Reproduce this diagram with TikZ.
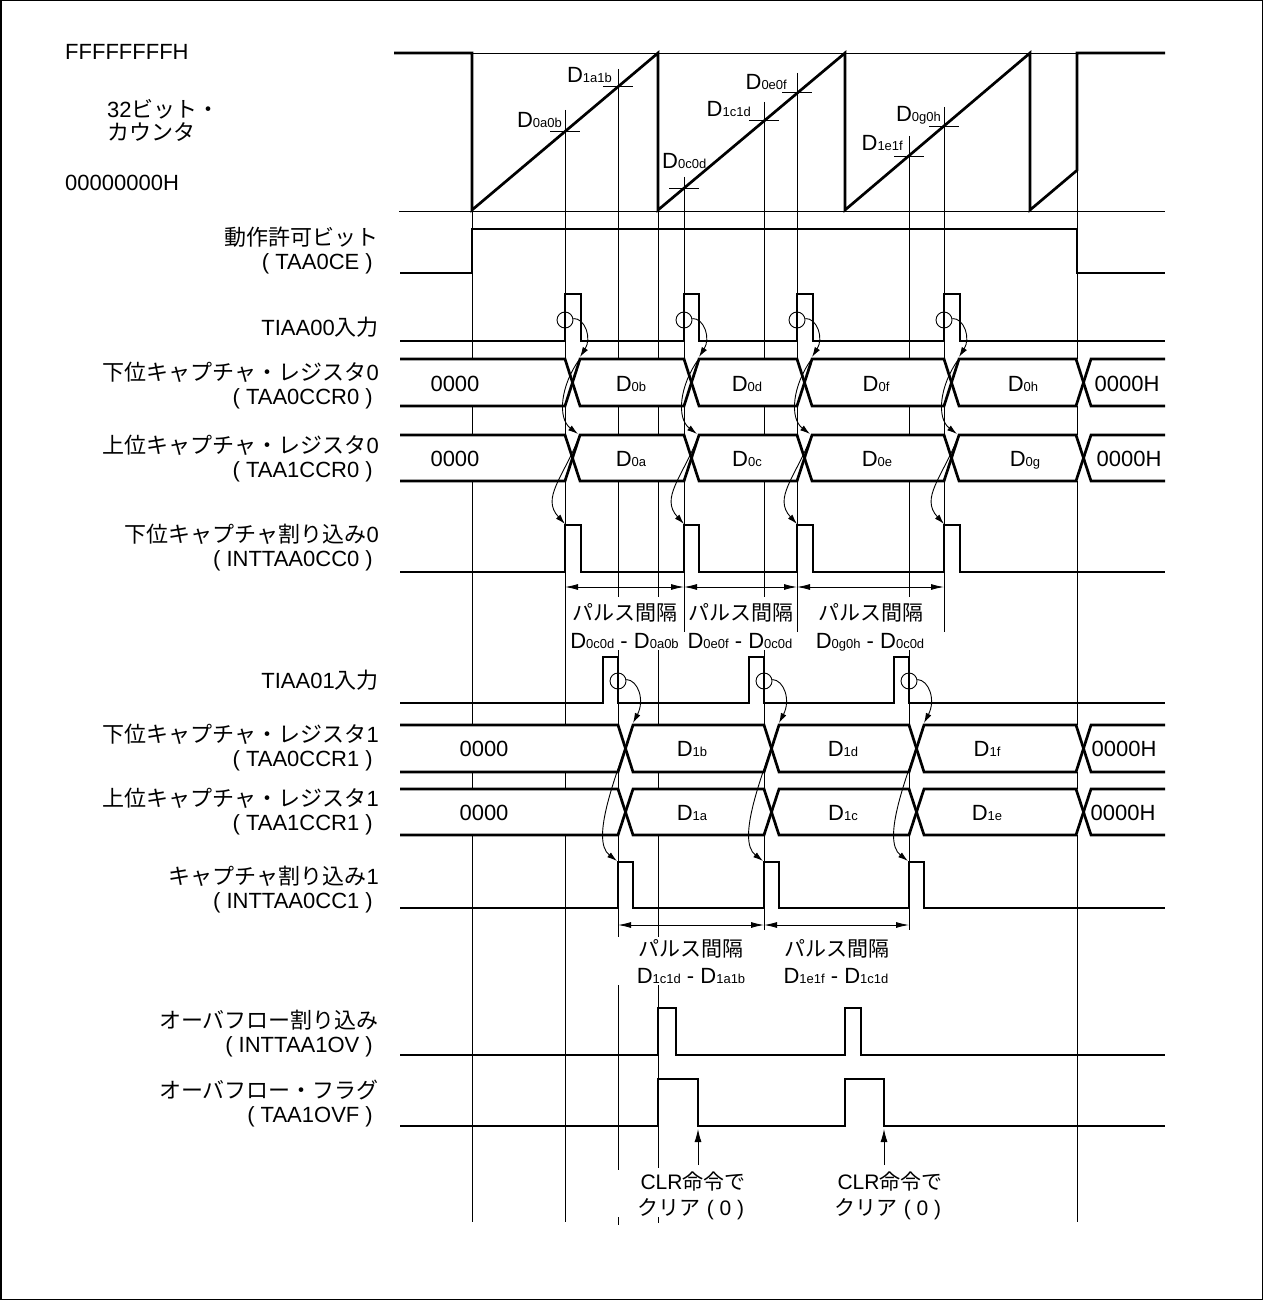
\documentclass[tikz,border=0pt]{standalone}
\usepackage{fontspec}
\setmainfont{Liberation Sans}
\newfontfamily\jp{Noto Sans CJK JP}
\usetikzlibrary{arrows.meta}
\newcommand\fzl{\fontsize{22}{26}\selectfont}
\newcommand\fzp{\fontsize{21}{25}\selectfont}
\newcommand\sbsz{\fontsize{13}{13}\selectfont}
\newcommand\Dsb[1]{D{\sbsz #1}}
\begin{document}
\begin{tikzpicture}[x=1pt,y=-1pt,
  sig/.style={line width=2.7pt,line join=miter},
  gridl/.style={line width=0.9pt},
  thinl/.style={line width=0.9pt},
  capar/.style={line width=0.9pt,-{Latex[length=10pt,width=6pt]}},
  dimar/.style={line width=0.9pt,{Latex[length=13pt,width=6pt]}-{Latex[length=13pt,width=6pt]}},
  clrar/.style={line width=0.9pt,-{Latex[length=13pt,width=7pt]}},
  lbl/.style={anchor=base east,inner sep=0pt,font=\fzl},
  val/.style={anchor=base,inner sep=0pt,font=\fzl},
  dl/.style={anchor=base east,inner sep=0pt,font=\fzl},
  pil/.style={anchor=base,inner sep=0pt,font=\fzp},
  ring/.style={circle,draw,line width=0.9pt,minimum size=16pt,inner sep=0pt}]
\useasboundingbox (0,0) rectangle (1263,1300);
\draw[line width=1.5pt] (0.75,0.75) rectangle (1262.25,1299.25);

% ---------- grid lines ----------
\draw[gridl] (472,53) -- (472,1222)
 (565,110) -- (565,1222)
 (618,69) -- (618,597) (618,650) -- (618,937) (618,985) -- (618,1170) (618,1217) -- (618,1225)
 (658,53) -- (658,597) (658,650) -- (658,937) (658,985) -- (658,1168) (658,1217) -- (658,1223)
 (684,177) -- (684,632)
 (764,102) -- (764,597) (764,650) -- (764,930)
 (797,73) -- (797,632)
 (909,136) -- (909,597) (909,650) -- (909,930)
 (944,107) -- (944,632)
 (1077,53) -- (1077,1222);
\draw[gridl] (472,53) -- (1077,53) (399,211) -- (1165,211);
\draw[gridl] (550,131.5) -- (580,131.5) (603,86.8) -- (633,86.8) (669,188.1) -- (699,188.1)
 (749,120.5) -- (779,120.5) (782,92.7) -- (812,92.7) (894,156) -- (924,156) (929,126.4) -- (959,126.4);

% ---------- counter ----------
\draw[sig] (394,53) -- (472,53) -- (472,210) -- (658,53) -- (658,210) -- (845,53) -- (845,210)
 -- (1030,53) -- (1030,210) -- (1077,170.3) -- (1077,53) -- (1165,53);
\node[dl] (c1) at (562,128) {\Dsb{0a0b}};
\node[dl] (c2) at (612,83) {\Dsb{1a1b}};
\node[dl,anchor=base west] (c3) at (662,168) {\Dsb{0c0d}};
\node[dl] (c4) at (751,117) {\Dsb{1c1d}};
\node[dl] (c5) at (787,90) {\Dsb{0e0f}};
\node[dl] (c6) at (903,151) {\Dsb{1e1f}};
\node[dl] (c7) at (941,122) {\Dsb{0g0h}};
\node[anchor=base west,inner sep=0pt,font=\fzl] (f1) at (65,60) {FFFFFFFFH};
\node[anchor=base west,inner sep=0pt,font=\fzl] (f2) at (107,118) {32{\jp ビット・}};
\node[anchor=base west,inner sep=0pt,font=\fzl] (f3) at (107,141) {{\jp カウンタ}};
\node[anchor=base west,inner sep=0pt,font=\fzl] (f4) at (65,190) {00000000H};

% ---------- labels ----------
\node[lbl] (l1a) at (379,245) {{\jp 動作許可ビット}};
\node[lbl] (l1b) at (373,269) {( TAA0CE )};
\node[lbl] (l2) at (379,335) {TIAA00{\jp 入力}};
\node[lbl] (l3a) at (379,380) {{\jp 下位キャプチャ・レジスタ}0};
\node[lbl] (l3b) at (373,404) {( TAA0CCR0 )};
\node[lbl] (l4a) at (379,453.5) {{\jp 上位キャプチャ・レジスタ}0};
\node[lbl] (l4b) at (373,477.5) {( TAA1CCR0 )};
\node[lbl] (l5a) at (379,542) {{\jp 下位キャプチャ割り込み}0};
\node[lbl] (l5b) at (373,566) {( INTTAA0CC0 )};
\node[lbl] (l6) at (379,688) {TIAA01{\jp 入力}};
\node[lbl] (l7a) at (379,742.5) {{\jp 下位キャプチャ・レジスタ}1};
\node[lbl] (l7b) at (373,766.5) {( TAA0CCR1 )};
\node[lbl] (l8a) at (379,806.5) {{\jp 上位キャプチャ・レジスタ}1};
\node[lbl] (l8b) at (373,830.5) {( TAA1CCR1 )};
\node[lbl] (l9a) at (379,884.5) {{\jp キャプチャ割り込み}1};
\node[lbl] (l9b) at (373,908.5) {( INTTAA0CC1 )};
\node[lbl] (l10a) at (379,1028.5) {{\jp オーバフロー割り込み}};
\node[lbl] (l10b) at (373,1052.5) {( INTTAA1OV )};
\node[lbl] (l11a) at (379,1098.5) {{\jp オーバフロー・フラグ}};
\node[lbl] (l11b) at (373,1122.5) {( TAA1OVF )};

% ---------- TAA0CE ----------
\draw[sig] (400,273) -- (472,273) -- (472,229) -- (1077,229) -- (1077,273) -- (1165,273);

% ---------- TIAA00 ----------
\draw[sig] (400,341) -- (565,341) -- (565,294) -- (581,294) -- (581,341) -- (684,341) -- (684,294)
 -- (699,294) -- (699,341) -- (797,341) -- (797,294) -- (813,294) -- (813,341) -- (944,341)
 -- (944,294) -- (960,294) -- (960,341) -- (1165,341);

% ---------- buses CCR0 ----------
\fill[white] (400,359) rectangle (1165,406);
\fill[white] (400,435) rectangle (1165,481);
\draw[sig] (400,359) -- (565,359) -- (580,406) -- (684,406) -- (699,359) -- (797,359) -- (812,406)
 -- (944,406) -- (959,359) -- (1076,359) -- (1091,406) -- (1165,406);
\draw[sig] (400,406) -- (565,406) -- (580,359) -- (684,359) -- (699,406) -- (797,406) -- (812,359)
 -- (944,359) -- (959,406) -- (1076,406) -- (1091,359) -- (1165,359);
\draw[sig] (400,435) -- (565,435) -- (580,481) -- (684,481) -- (699,435) -- (797,435) -- (812,481)
 -- (944,481) -- (959,435) -- (1076,435) -- (1091,481) -- (1165,481);
\draw[sig] (400,481) -- (565,481) -- (580,435) -- (684,435) -- (699,481) -- (797,481) -- (812,435)
 -- (944,435) -- (959,481) -- (1076,481) -- (1091,435) -- (1165,435);
\node[val] (v1) at (455,391) {0000};
\node[val] (v2) at (631,391) {\Dsb{0b}};
\node[val] (v3) at (747,391) {\Dsb{0d}};
\node[val] (v4) at (876,391) {\Dsb{0f}};
\node[val] (v5) at (1023,391) {\Dsb{0h}};
\node[val] (v6) at (1127,391) {0000H};
\node[val] (w1) at (455,466) {0000};
\node[val] (w2) at (631,466) {\Dsb{0a}};
\node[val] (w3) at (747,466) {\Dsb{0c}};
\node[val] (w4) at (877,466) {\Dsb{0e}};
\node[val] (w5) at (1025,466) {\Dsb{0g}};
\node[val] (w6) at (1129,466) {0000H};

% ---------- INTTAA0CC0 ----------
\draw[sig] (400,572) -- (565,572) -- (565,525) -- (581,525) -- (581,572) -- (684,572) -- (684,525)
 -- (699,525) -- (699,572) -- (797,572) -- (797,525) -- (813,525) -- (813,572) -- (944,572)
 -- (944,525) -- (960,525) -- (960,572) -- (1165,572);

% capture arrows, channel 0
\foreach \x/\n in {565/1,684/2,797/3,944/4}{
  \node[ring] (o\n) at (\x,320) {};
  \draw[capar] (o\n.10) .. controls ({\x+20},318) and ({\x+27},338) .. ({\x+15},357);
  \draw[capar] ({\x+14},360) .. controls ({\x-4},385) and ({\x-8},418) .. ({\x+13},434);
  \draw[capar] ({\x+14},437) .. controls ({\x-2},478) and ({\x-24},498) .. ({\x},524);
}

% pulse intervals, channel 0
\draw[dimar] (565,587) -- (684,587);
\draw[dimar] (684,587) -- (797,587);
\draw[dimar] (797,587) -- (944,587);
\node[pil] (p1) at (624.5,620) {{\jp パルス間隔}};
\node[pil] (p2) at (740.5,620) {{\jp パルス間隔}};
\node[pil] (p3) at (870.5,620) {{\jp パルス間隔}};
\node[val] (q1) at (624.5,648) {\Dsb{0c0d} - \Dsb{0a0b}};
\node[val] (q2) at (740,648) {\Dsb{0e0f} - \Dsb{0c0d}};
\node[val] (q3) at (870,648) {\Dsb{0g0h} - \Dsb{0c0d}};

% ---------- TIAA01 ----------
\draw[sig] (400,703) -- (603,703) -- (603,657) -- (618,657) -- (618,703) -- (749,703) -- (749,657)
 -- (764,657) -- (764,703) -- (894,703) -- (894,657) -- (909,657) -- (909,703) -- (1165,703);

% ---------- buses CCR1 ----------
\fill[white] (400,725) rectangle (1165,772);
\fill[white] (400,789) rectangle (1165,835);
\draw[sig] (400,725) -- (618,725) -- (633,772) -- (764,772) -- (779,725) -- (909,725) -- (924,772)
 -- (1076,772) -- (1091,725) -- (1165,725);
\draw[sig] (400,772) -- (618,772) -- (633,725) -- (764,725) -- (779,772) -- (909,772) -- (924,725)
 -- (1076,725) -- (1091,772) -- (1165,772);
\draw[sig] (400,789) -- (618,789) -- (633,835) -- (764,835) -- (779,789) -- (909,789) -- (924,835)
 -- (1076,835) -- (1091,789) -- (1165,789);
\draw[sig] (400,835) -- (618,835) -- (633,789) -- (764,789) -- (779,835) -- (909,835) -- (924,789)
 -- (1076,789) -- (1091,835) -- (1165,835);
\node[val] (x1) at (484,756.5) {0000};
\node[val] (x2) at (692,756.5) {\Dsb{1b}};
\node[val] (x3) at (843,756.5) {\Dsb{1d}};
\node[val] (x4) at (987,756.5) {\Dsb{1f}};
\node[val] (x5) at (1124,756.5) {0000H};
\node[val] (y1) at (484,820) {0000};
\node[val] (y2) at (692,820) {\Dsb{1a}};
\node[val] (y3) at (843,820) {\Dsb{1c}};
\node[val] (y4) at (987,820) {\Dsb{1e}};
\node[val] (y5) at (1123,820) {0000H};

% ---------- INTTAA0CC1 ----------
\draw[sig] (400,908) -- (618,908) -- (618,862) -- (633,862) -- (633,908) -- (764,908) -- (764,862)
 -- (779,862) -- (779,908) -- (909,908) -- (909,862) -- (924,862) -- (924,908) -- (1165,908);

% capture arrows, channel 1
\foreach \x/\n in {618/5,764/6,909/7}{
  \node[ring] (o\n) at (\x,681) {};
  \draw[capar] (o\n.10) .. controls ({\x+20},680) and ({\x+27},700) .. ({\x+15},723);
  \draw[capar] ({\x+15},726) .. controls ({\x-2},775) and ({\x-28},840) .. ({\x-1},861);
}

% pulse intervals, channel 1
\draw[dimar] (618,925) -- (764,925);
\draw[dimar] (764,925) -- (909,925);
\node[pil] (p4) at (691,956) {{\jp パルス間隔}};
\node[pil] (p5) at (837,956) {{\jp パルス間隔}};
\node[val] (q4) at (691,983) {\Dsb{1c1d} - \Dsb{1a1b}};
\node[val] (q5) at (836,983) {\Dsb{1e1f} - \Dsb{1c1d}};

% ---------- overflow ----------
\draw[sig] (400,1055) -- (658,1055) -- (658,1008) -- (676,1008) -- (676,1055) -- (845,1055)
 -- (845,1008) -- (861,1008) -- (861,1055) -- (1165,1055);
\draw[sig] (400,1126) -- (658,1126) -- (658,1079) -- (698,1079) -- (698,1126) -- (845,1126)
 -- (845,1079) -- (884,1079) -- (884,1126) -- (1165,1126);

\node[pil] (r1) at (693,1189) {CLR{\jp 命令で}};
\node[pil] (r2) at (691,1215) {{\jp クリア} ( 0 )};
\node[pil] (r3) at (890,1189) {CLR{\jp 命令で}};
\node[pil] (r4) at (888,1215) {{\jp クリア} ( 0 )};
\coordinate (t1) at (698,1129);
\coordinate (t2) at (884,1129);
\draw[clrar] (698,1165) -- (t1);
\draw[clrar] (884,1165) -- (t2);
\end{tikzpicture}
\end{document}
